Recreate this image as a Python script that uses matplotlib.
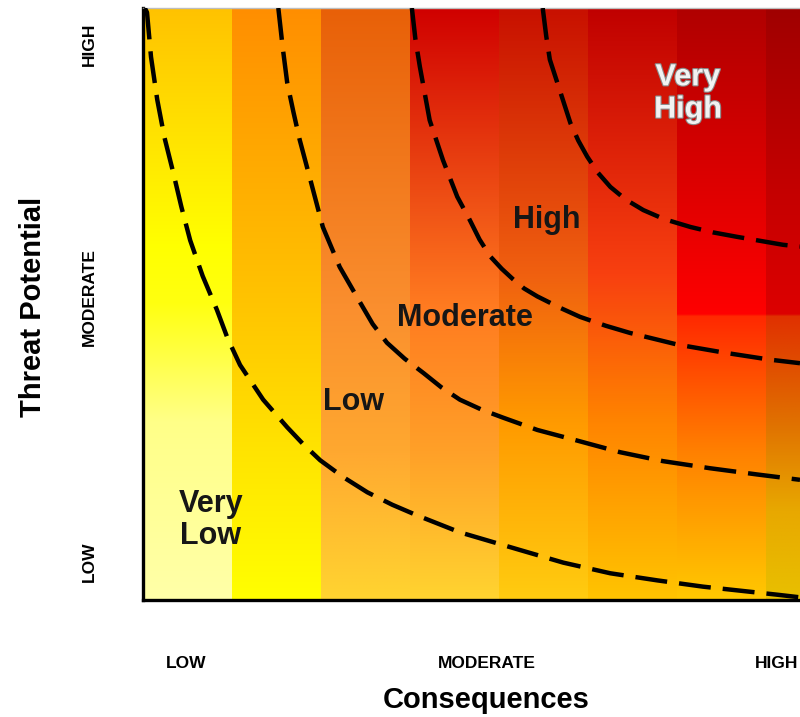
import numpy as np
import matplotlib
matplotlib.use('Agg')
import matplotlib.pyplot as plt
import matplotlib.patheffects as pe
from matplotlib.colors import LinearSegmentedColormap

plt.rcParams['font.family'] = ['Liberation Sans', 'DejaVu Sans']

# grid size in "column" units (each column of the heat map = 1 unit)
x_max = 7.38
y_max = 6.65

# vertical colour stops for each column (0 = bottom, 1 = top)
col_stops = [
    [(0.0, '#FFFFA8'), (0.3, '#FFFF88'), (0.5, '#FFFF10'), (0.6, '#FFFF00'), (1.0, '#FFC200')],
    [(0.0, '#FFFF00'), (0.25, '#FFE400'), (0.5, '#FFC400'), (1.0, '#FF8E00')],
    [(0.0, '#FFD430'), (0.25, '#FFA830'), (0.5, '#FA8E2E'), (1.0, '#E86008')],
    [(0.0, '#FFD430'), (0.25, '#FFA028'), (0.5, '#FF7A20'), (1.0, '#D00000')],
    [(0.0, '#FFCC10'), (0.3, '#FF9A00'), (0.55, '#F06010'), (1.0, '#C81000')],
    [(0.0, '#FFC400'), (0.3, '#FF8400'), (0.55, '#F84010'), (1.0, '#C00000')],
    [(0.0, '#FFC800'), (0.25, '#FF8000'), (0.48, '#FF2800'), (0.48, '#FF0000'), (1.0, '#B00000')],
    [(0.0, '#E8C000'), (0.15, '#E8A800'), (0.3, '#E07000'), (0.48, '#E03000'), (0.48, '#DD0000'), (1.0, '#A00000')],
]

# boundary curves (x = consequences, y = threat potential)
c1_x = [0.02, 0.045, 0.09, 0.16, 0.24, 0.34, 0.43, 0.53, 0.67, 0.83, 0.95, 1.09, 1.35, 1.62, 1.80, 1.99,
        2.25, 2.52, 2.80, 3.08, 3.56, 4.24, 4.72, 5.25, 5.78, 6.29, 7.12, 7.38]
c1_y = [6.65, 6.60, 6.10, 5.62, 5.20, 4.80, 4.42, 4.04, 3.64, 3.26, 2.94, 2.64, 2.25, 1.94, 1.75, 1.57,
        1.38, 1.21, 1.07, 0.95, 0.76, 0.56, 0.42, 0.30, 0.22, 0.15, 0.06, 0.03]
c2_x = [1.52, 1.57, 1.62, 1.69, 1.76, 1.88, 2.02, 2.21, 2.44, 2.58, 2.74, 2.94, 3.15, 3.35, 3.56, 3.80,
        4.04, 4.43, 4.88, 5.36, 5.84, 6.37, 6.90, 7.38]
c2_y = [6.65, 6.20, 5.81, 5.48, 5.17, 4.72, 4.19, 3.74, 3.34, 3.10, 2.89, 2.71, 2.55, 2.39, 2.25, 2.14,
        2.05, 1.91, 1.79, 1.66, 1.56, 1.48, 1.41, 1.35]
c3_x = [3.02, 3.06, 3.11, 3.22, 3.37, 3.53, 3.67, 3.78, 3.90, 4.03, 4.16, 4.28, 4.43, 4.69, 4.91, 5.20,
        5.47, 6.00, 6.52, 7.04, 7.38]
c3_y = [6.65, 6.30, 5.99, 5.39, 4.94, 4.53, 4.27, 4.05, 3.86, 3.72, 3.60, 3.50, 3.41, 3.28, 3.18, 3.08,
        3.00, 2.87, 2.78, 2.70, 2.66]
c4_x = [4.49, 4.53, 4.57, 4.69, 4.80, 4.89, 4.99, 5.11, 5.25, 5.42, 5.62, 5.85, 6.15, 6.40, 6.67, 7.19, 7.38]
c4_y = [6.65, 6.33, 6.07, 5.70, 5.36, 5.16, 4.98, 4.80, 4.64, 4.50, 4.38, 4.28, 4.19, 4.13, 4.08, 3.99, 3.97]

zone_labels = ['Very\nLow', 'Low', 'Moderate', 'High', 'Very\nHigh']
zone_x = [0.76, 2.36, 3.62, 4.54, 6.12]
zone_y = [0.90, 2.22, 3.17, 4.27, 5.69]

x_ticks = [0.48, 3.86, 7.12]
y_ticks = [0.43, 3.40, 6.24]
tick_names = ['LOW', 'MODERATE', 'HIGH']

fig = plt.figure(figsize=(8, 7.17), dpi=100)
ax = fig.add_axes([143 / 800, 117 / 717, 657 / 800, 592 / 717])

grad = np.linspace(0, 1, 256).reshape(-1, 1)
for i, stops in enumerate(col_stops):
    cmap = LinearSegmentedColormap.from_list(f'col{i}', stops)
    ax.imshow(grad, cmap=cmap, origin='lower', aspect='auto',
              extent=[i, i + 1, 0, y_max], interpolation='bilinear', zorder=0)

for cx, cy in [(c1_x, c1_y), (c2_x, c2_y), (c3_x, c3_y), (c4_x, c4_y)]:
    ax.plot(cx, cy, color='black', lw=3.2, dashes=(7.2, 2.7), zorder=3,
            solid_joinstyle='round')

for i, lab in enumerate(zone_labels):
    if lab == 'Very\nHigh':
        ax.text(zone_x[i], zone_y[i], lab, color='#f2f2f2', fontsize=22, fontweight='bold',
                ha='center', va='center', linespacing=1.1, zorder=4,
                path_effects=[pe.withStroke(linewidth=1.6, foreground='#8a8a8a')])
    else:
        ax.text(zone_x[i], zone_y[i], lab, color='#161616', fontsize=22, fontweight='bold',
                ha='center', va='center', linespacing=1.1, zorder=4)

ax.set_xlim(0, x_max)
ax.set_ylim(0, y_max)

ax.set_xticks(x_ticks)
ax.set_xticklabels(tick_names, fontsize=12.5, fontweight='bold')
ax.set_yticks(y_ticks)
ax.set_yticklabels(tick_names, fontsize=12.5, fontweight='bold', rotation=90, va='center')
ax.tick_params(axis='x', length=0, pad=40)
ax.tick_params(axis='y', length=0, pad=33)

for s in ['left', 'bottom']:
    ax.spines[s].set_linewidth(2.4)
    ax.spines[s].set_color('black')
ax.spines['right'].set_visible(False)
ax.spines['top'].set_color('#bdbdbd')
ax.spines['top'].set_linewidth(1.0)

fig.text(486 / 800, 1 - 700 / 717, 'Consequences', fontsize=21, fontweight='bold',
         ha='center', va='center')
fig.text(33 / 800, 1 - 307 / 717, 'Threat Potential', fontsize=21, fontweight='bold',
         ha='center', va='center', rotation=90)

fig.savefig('out.png', dpi=100)
